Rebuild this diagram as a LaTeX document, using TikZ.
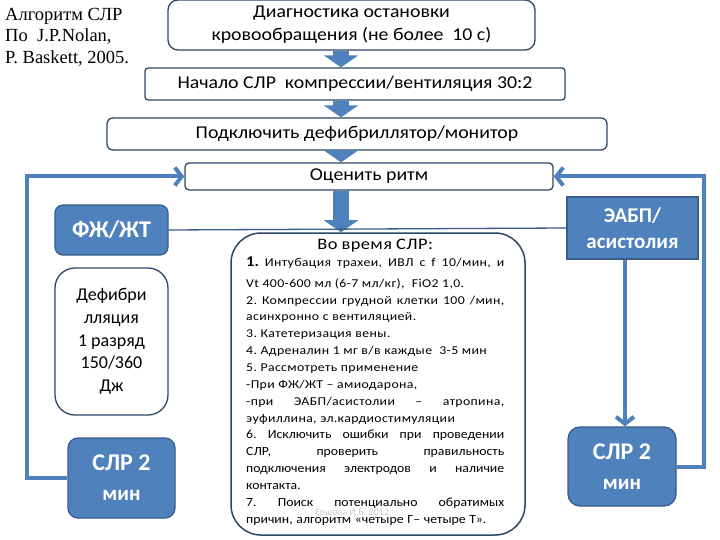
\documentclass[tikz,border=0pt]{standalone}
\usepackage{fontspec}
\setmainfont{Carlito}
\newfontfamily\wide[FakeStretch=1.1]{Carlito}
\newfontfamily\widesp[FakeStretch=1.15,LetterSpace=3]{Carlito}
\newfontfamily\timesf{Liberation Serif}
\usetikzlibrary{arrows.meta}
\definecolor{bfill}{HTML}{4F81BD}
\definecolor{bdark}{HTML}{385D8A}
\definecolor{edgec}{HTML}{2E4766}
\newdimen\colw \colw=258pt
\newcommand\jln[1]{\hbox to \colw{\spaceskip=0.3em plus 1fil\relax #1}}
\newcommand\nln[1]{\hbox to \colw{\spaceskip=0.3em\relax #1\hfil}}
\begin{document}
\begin{tikzpicture}[x=1pt,y=-1pt,
  wbox/.style={draw=edgec, line width=1.3pt, fill=white, inner sep=0pt, align=center,
    font=\wide\fontsize{18}{23}\selectfont},
  bbox/.style={draw=bdark, line width=1.3pt, fill=bfill, inner sep=0pt, align=center,
    text=white, font=\bfseries\fontsize{18}{26}\selectfont},
  blockarrow/.style={draw=bfill, line width=16pt, -{Triangle[width=34pt,length=12pt]}},
  loopline/.style={draw=bfill, line width=4pt, line join=miter, -{Straight Barb[length=7pt,width=18pt]}},
  thinline/.style={draw=bdark, line width=1.3pt}]
\useasboundingbox (0,0) rectangle (720,540);
\fill[white] (0,0) rectangle (720,540);

% top-left caption
\node[anchor=north west, inner sep=0pt, align=left, font=\timesf\fontsize{18.5}{21.5}\selectfont]
  (title) at (5,8) {Алгоритм СЛР\\По~ J.P.Nolan,\\P. Baskett, 2005.};

% main column
\node[wbox, rounded corners=10pt, minimum width=367pt, minimum height=50pt] (diag) at (351.5,25)
  {Диагностика остановки\\кровообращения (не более~ 10 с)};
\node[wbox, rounded corners=3pt, minimum width=420pt, minimum height=32pt] (start) at (355,84)
  {Начало СЛР~ компрессии/вентиляция 30:2};
\node[wbox, rounded corners=6pt, minimum width=500pt, minimum height=32pt] (defmon) at (357,134)
  {Подключить дефибриллятор/монитор};
\node[wbox, rounded corners=4pt, minimum width=368pt, minimum height=27pt] (assess) at (369,176.5)
  {Оценить ритм};

% left branch
\node[bbox, rounded corners=8pt, minimum width=113pt, minimum height=50pt,
  font=\bfseries\fontsize{24}{26}\selectfont] (vf) at (111.5,230)
  {ФЖ/ЖТ};
\node[wbox, rounded corners=20pt, minimum width=113pt, minimum height=147pt,
  font=\fontsize{18}{22.75}\selectfont] (defib) at (111.5,341.5)
  {Дефибри\\лляция\\1 разряд\\150/360\\Дж};
\node[bbox, rounded corners=10pt, minimum width=107pt, minimum height=80pt,
  font=\bfseries\fontsize{24}{30}\selectfont] (cprl) at (121.5,478)
  {СЛР 2\\{\fontsize{21}{30}\selectfont мин}};

% right branch
\node[bbox, rounded corners=0pt, minimum width=131pt, minimum height=62pt,
  font=\bfseries\fontsize{21}{26}\selectfont] (pea) at (632.5,228)
  {ЭАБП/\\асистолия};
\node[bbox, rounded corners=12pt, minimum width=108pt, minimum height=79pt,
  font=\bfseries\fontsize{24}{30}\selectfont] (cprr) at (622,466.5)
  {СЛР 2\\{\fontsize{21}{30}\selectfont мин}};

% central box
\node[draw=edgec, line width=1.5pt, fill=white, rounded corners=30pt, minimum width=294pt,
  minimum height=302pt, inner sep=0pt] (during) at (378,384) {};
\node[anchor=north west, inner sep=0pt, text width=\colw, align=left,
  font=\widesp\fontsize{12}{16.85}\selectfont] (duringtext) at (246,239) {%
  \frenchspacing\lineskiplimit=-100pt\relax
  \hbox to \colw{\hfil{\fontsize{16}{16.85}\selectfont Во время СЛР:}\hfil}
  \vspace{4pt}
  \jln{{\wide\fontsize{15}{16.85}\selectfont\bfseries 1.} Интубация трахеи, ИВЛ с f 10/мин, и}
  \nln{Vt 400-600 мл (6-7 мл/кг),~ FiO2 1,0.}
  \jln{2. Компрессии грудной клетки 100 /мин,}
  \nln{асинхронно с вентиляцией.}
  \nln{3. Катетеризация вены.}
  \nln{4. Адреналин 1 мг в/в каждые~ 3-5 мин}
  \nln{5. Рассмотреть применение}
  \nln{-При ФЖ/ЖТ – амиодарона,}
  \jln{-при ЭАБП/асистолии – атропина,}
  \nln{эуфиллина, эл.кардиостимуляции}
  \wide\fontsize{12.5}{16.85}\selectfont
  \jln{6. Исключить ошибки при проведении}
  \jln{СЛР, проверить правильность}
  \jln{подключения электродов и наличие}
  \nln{контакта.}
  \jln{7. Поиск потенциально обратимых}
  \nln{причин, алгоритм «четыре Г– четыре Т».}};
\node[text=gray!40, font=\fontsize{10}{12}\selectfont, inner sep=0pt] (mark) at (352,513)
  {Ершова И.Б. 2012};

% block arrows
\coordinate (ca) at (341,0);
\draw[blockarrow] (diag.south -| ca) -- (start.north -| ca);
\draw[blockarrow] (start.south -| ca) -- (defmon.north -| ca);
\draw[blockarrow] (defmon.south -| ca) -- (assess.north -| ca);
\draw[blockarrow] (assess.south -| ca) -- (during.north -| ca);

% connectors
\draw[thinline] (vf.east) -- (pea.west);
\coordinate (rx) at (625,0);
\draw[loopline] (pea.south -| rx) -- (cprr.north -| rx);
\draw[loopline] (cprl.west) -- ++(-40,0) |- (assess.west);
\draw[loopline] (cprr.east) -- ++(27,0) |- (assess.east);
\end{tikzpicture}
\end{document}
